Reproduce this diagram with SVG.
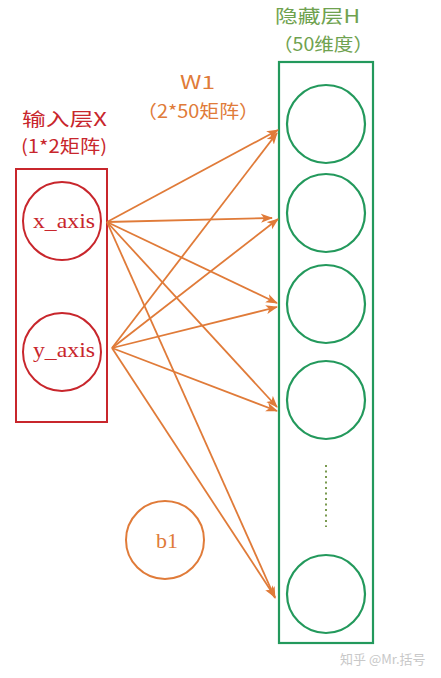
<svg xmlns="http://www.w3.org/2000/svg" width="441" height="678" viewBox="0 0 441 678">
<style>
.cjk{font-family:"Noto Sans CJK SC","Noto Sans",sans-serif;font-size:18px}
.red{fill:#c8262c}
.grn{fill:#6fa24f}
.org{fill:#e07b39}
.ri{fill:none;stroke:#c8262c;stroke-width:2}
.gi{fill:none;stroke:#23995c;stroke-width:2.2}
.oi{fill:none;stroke:#e07b39;stroke-width:2}
.ln{stroke:#e07b39;stroke-width:1.8;fill:none;marker-end:url(#ah)}
</style>
<defs>
<marker id="ah" markerUnits="userSpaceOnUse" markerWidth="12" markerHeight="10" refX="11" refY="4.5" orient="auto" viewBox="0 0 12 9">
<path d="M0,0 L12,4.5 L0,9 L3,4.5 z" fill="#e07b39"/>
</marker>
</defs>
<rect width="441" height="678" fill="#ffffff"/>
<g id="labels">
<text class="cjk red" x="22" y="126" textLength="85" lengthAdjust="spacingAndGlyphs">输入层X</text>
<text class="cjk red" x="21" y="153" textLength="86" lengthAdjust="spacingAndGlyphs">(1*2矩阵)</text>
<text class="cjk grn" x="275" y="23" textLength="85" lengthAdjust="spacingAndGlyphs">隐藏层H</text>
<text class="cjk grn" x="273" y="51" textLength="100" lengthAdjust="spacingAndGlyphs">（50维度）</text>
<text class="cjk org" x="180" y="89" textLength="35" lengthAdjust="spacingAndGlyphs">W1</text>
<text class="cjk org" x="137" y="118" textLength="122" lengthAdjust="spacingAndGlyphs">（2*50矩阵）</text>
</g>
<g id="input-layer">
<rect class="ri" x="16" y="169" width="91" height="253"/>
</g>
<g id="x_axis">
<circle class="ri" cx="62" cy="221" r="39"/>
<text x="33" y="228" font-family="'Liberation Serif',serif" font-size="22" fill="#c8262c" textLength="62" lengthAdjust="spacingAndGlyphs">x_axis</text>
</g>
<g id="y_axis">
<circle class="ri" cx="62" cy="352" r="39"/>
<text x="33" y="357" font-family="'Liberation Serif',serif" font-size="22" fill="#c8262c" textLength="62" lengthAdjust="spacingAndGlyphs">y_axis</text>
</g>
<g id="hidden-layer">
<rect class="gi" x="279" y="62" width="94" height="581"/>
</g>
<g id="h1"><circle class="gi" cx="326" cy="124" r="39"/></g>
<g id="h2"><circle class="gi" cx="326" cy="213" r="39"/></g>
<g id="h3"><circle class="gi" cx="326" cy="304" r="39"/></g>
<g id="h4"><circle class="gi" cx="326" cy="400" r="39"/></g>
<g id="h-dots"><line x1="326" y1="465" x2="326" y2="527" stroke="#7a9a50" stroke-width="2" stroke-dasharray="2,3.5"/></g>
<g id="h5"><circle class="gi" cx="326" cy="594" r="39"/></g>
<g id="b1">
<circle class="oi" cx="165" cy="540" r="39"/>
<text x="167" y="548" text-anchor="middle" font-family="'Liberation Serif',serif" font-size="22" fill="#e07b39">b1</text>
</g>
<g id="connectors">
<line class="ln" x1="107" y1="222" x2="278" y2="130"/>
<line class="ln" x1="107" y1="222" x2="272" y2="218"/>
<line class="ln" x1="107" y1="222" x2="277" y2="303"/>
<line class="ln" x1="107" y1="222" x2="277" y2="407"/>
<line class="ln" x1="107" y1="222" x2="275" y2="598"/>
<line class="ln" x1="112" y1="348" x2="277" y2="133"/>
<line class="ln" x1="112" y1="348" x2="278" y2="219"/>
<line class="ln" x1="112" y1="348" x2="277" y2="307"/>
<line class="ln" x1="112" y1="348" x2="277" y2="411"/>
<line class="ln" x1="112" y1="348" x2="275" y2="597"/>
</g>
<text x="340" y="664" font-family="'Noto Sans CJK SC',sans-serif" font-size="13" fill="#c8c8c8">知乎 @Mr.括号</text>
</svg>
